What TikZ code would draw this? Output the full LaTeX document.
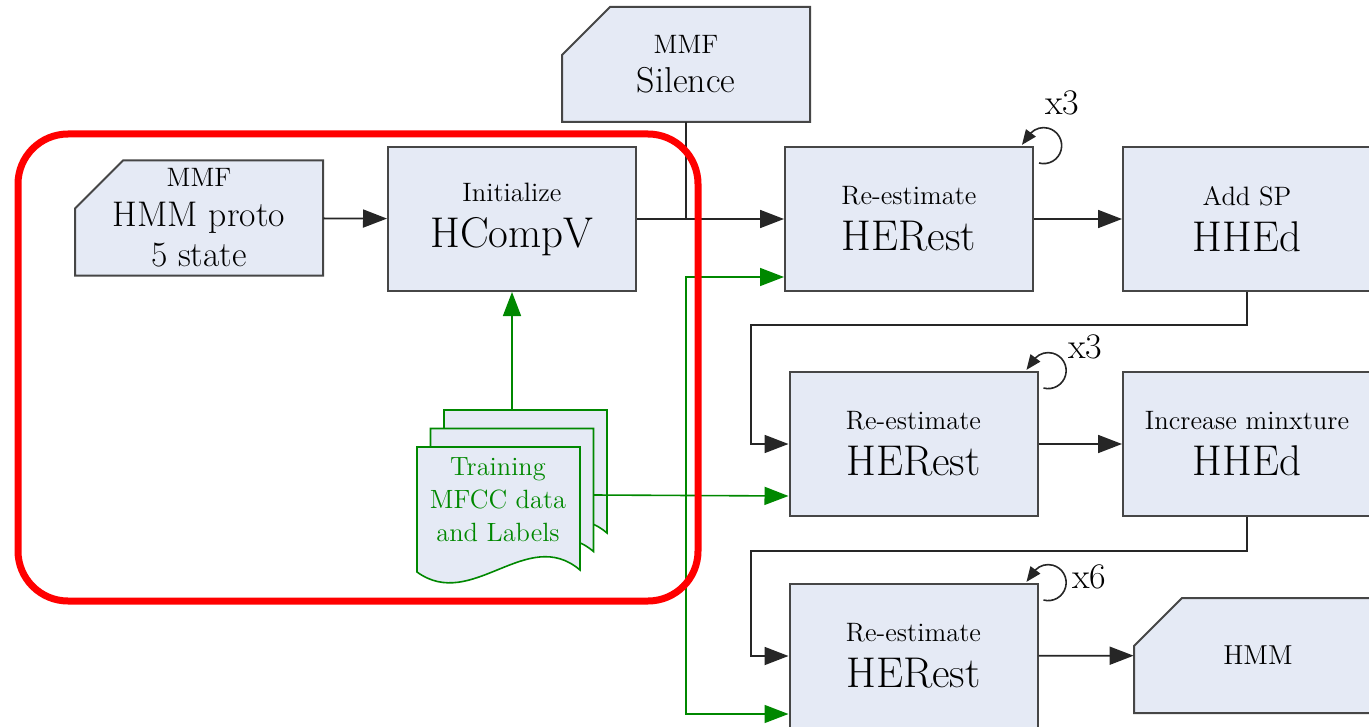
\documentclass[tikz,border=0pt]{standalone}
\usepackage{fontspec}
\usetikzlibrary{arrows.meta}
\definecolor{boxfill}{RGB}{229,234,245}
\definecolor{boxline}{RGB}{70,70,70}
\definecolor{datagreen}{RGB}{0,136,0}
\newcommand{\smalltxt}[1]{{\fontsize{13.3}{15}\selectfont #1}}
\newcommand{\docpage}[2]{%
  \draw[pageline] (#1,#2) -- (#1+163,#2) -- (#1+163,#2+123)
    .. controls (#1+110,#2+78) and (#1+55,#2+165) .. (#1,#2+125) -- cycle;}
\newcommand{\mmfshape}[2]{%
  \draw[mmfline] (#1-76,#2-57.5) -- (#1+124,#2-57.5) -- (#1+124,#2+57.5)
    -- (#1-124,#2+57.5) -- (#1-124,#2-9.5) -- cycle;}
\tikzset{
  mmfline/.style={draw=boxline,fill=boxfill,line width=1pt},
  mmftext/.style={minimum width=124pt,minimum height=57.5pt,inner sep=0pt,align=center,font=\fontsize{17.8}{20}\selectfont},
  flow/.style={line width=0.9pt,black!85,-{Triangle[length=12pt,width=9pt]}},
  dataflow/.style={line width=0.8pt,datagreen,-{Triangle[length=12pt,width=9pt]}},
  repeat/.style={line width=0.8pt,black!85,-{Triangle[length=7.5pt,width=6pt]}},
  pageline/.style={draw=datagreen,fill=boxfill,line width=0.8pt}
}
\begin{document}
\begin{tikzpicture}[x=0.5pt,y=-0.5pt]
    \clip (0,0) rectangle (1369,727);

    \begin{scope}[every node/.style={rectangle,draw=boxline,fill=boxfill,line width=1pt,minimum width=124pt,minimum height=72pt,inner sep=0pt,align=center,font=\fontsize{21.5}{23}\selectfont}]
        \node (hcv) at (512,219) {\smalltxt{Initialize}\\HCompV};
        \node (re1) at (909,219) {\smalltxt{Re-estimate}\\HERest};
        \node (hh1) at (1247,219) {\smalltxt{Add SP}\\HHEd};
        \node (re2) at (913.5,444) {\smalltxt{Re-estimate}\\HERest};
        \node (hh2) at (1247,444) {\smalltxt{Increase minxture}\\HHEd};
        \node (re3) at (913.5,656) {\smalltxt{Re-estimate}\\HERest};
    \end{scope}

    \mmfshape{199}{218}
    \node[mmftext] (proto) at (199,218) {\smalltxt{MMF}\\HMM proto\\5 state};
    \mmfshape{686}{64.5}
    \node[mmftext,font=\fontsize{18}{19.5}\selectfont] (sil) at (686,64.5) {\smalltxt{MMF}\\Silence};
    \mmfshape{1258}{655.5}
    \node[mmftext] (hmm) at (1258,655.5) {{\fontsize{13.7}{15}\selectfont HMM}};

    \docpage{444}{410}
    \docpage{430.5}{428.5}
    \docpage{417}{447}
    \node[font=\fontsize{13.2}{16.5}\selectfont,text=datagreen,align=center] (train) at (498,500) {Training\\MFCC data\\and Labels};
    \coordinate (backtop) at (512,410);
    \coordinate (midright) at (593.5,495);
    \coordinate (gsplit) at (686,495);
    \coordinate (turn1) at (751,325);
    \coordinate (turn2) at (751,551);

    \begin{scope}[every path/.style={flow}]
        \path (proto) edge (hcv);
        \path (hcv) edge (re1);
        \path (re1) edge (hh1);
        \path (re2) edge (hh2);
        \path (re3) edge (hmm);
    \end{scope}
    \draw[line width=0.9pt,black!85] (sil.south) -- (sil.south |- hcv.east);
    \draw[flow] (hh1.south) |- (turn1) |- (re2.west);
    \draw[flow] (hh2.south) |- (turn2) |- (re3.west);

    \draw[dataflow] (backtop) -- (hcv.south);
    \draw[dataflow] (midright) -- ([yshift=10.5pt]re2.south west);
    \draw[dataflow] (gsplit) |- ([yshift=7.5pt]re1.south west);
    \draw[dataflow] (gsplit) |- ([yshift=7.5pt]re3.south west);

    \draw[repeat] (re1.north east) ++(5,17) arc[start angle=105,end angle=-135,radius=18] -- ++(-9,12);
    \draw[repeat] (re2.north east) ++(5,17) arc[start angle=105,end angle=-135,radius=18] -- ++(-9,12);
    \draw[repeat] (re3.north east) ++(5,17) arc[start angle=105,end angle=-135,radius=18] -- ++(-9,12);
    \node[font=\fontsize{18}{20}\selectfont] (n1) at (1062,103) {x3};
    \node[font=\fontsize{18}{20}\selectfont] (n2) at (1085,347) {x3};
    \node[font=\fontsize{18}{20}\selectfont] (n3) at (1089,577) {x6};

    \draw[red,line width=3.5pt,rounded corners=25pt] (18,134) rectangle (698,601);
\end{tikzpicture}
\end{document}
